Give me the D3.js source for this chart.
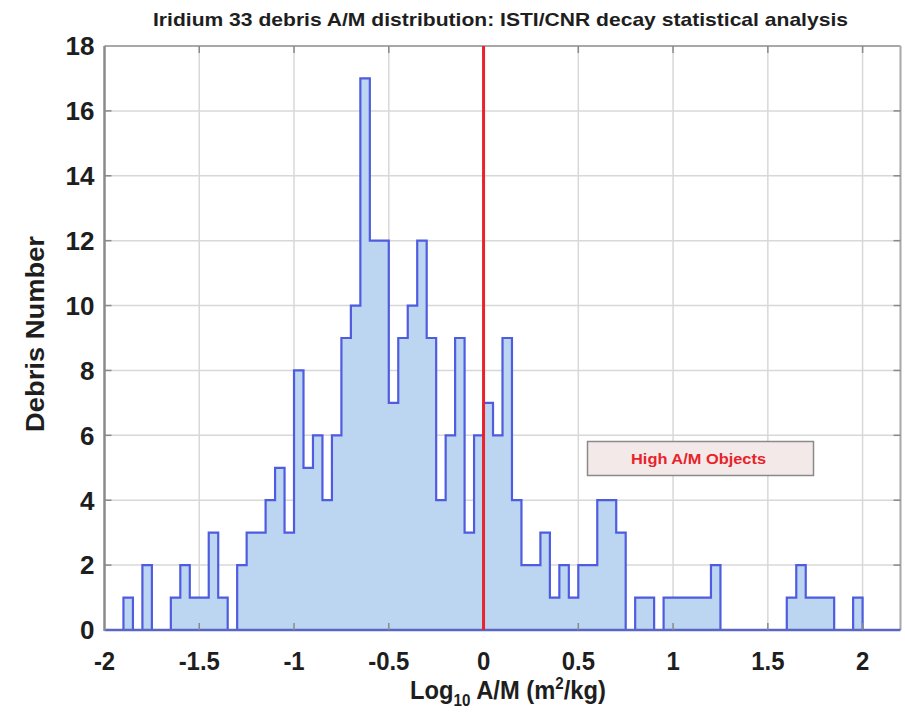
<!DOCTYPE html>
<html>
<head>
<meta charset="utf-8">
<script src="https://cdn.jsdelivr.net/npm/d3@7"></script>
<style>
  html, body { margin: 0; padding: 0; background: #ffffff; }
  svg { display: block; }
</style>
</head>
<body>
<svg id="chart" width="905" height="713"></svg>
<script>
// ---------------- data ----------------
const title = "Iridium 33 debris A/M distribution: ISTI/CNR decay statistical analysis";
const yLabel = "Debris Number";
const binStart = -1.9;   // left edge of first bin (log10 A/M)
const binWidth = 0.05;
const counts = [
  1, 0, 2, 0, 0, 1, 2, 1, 1, 3,
  1, 0, 2, 3, 3, 4, 5, 3, 8, 5,
  6, 4, 6, 9, 10, 17, 12, 12, 7, 9,
  10, 12, 9, 4, 6, 9, 3, 6, 7, 6,
  9, 4, 2, 2, 3, 1, 2, 1, 2, 2,
  4, 4, 3, 0, 1, 1, 0, 1, 1, 1,
  1, 1, 2, 0, 0, 0, 0, 0, 0, 0,
  1, 2, 1, 1, 1, 0, 0, 1
];
const xTicks = [-2, -1.5, -1, -0.5, 0, 0.5, 1, 1.5, 2];
const xTickLabels = ["-2", "-1.5", "-1", "-0.5", "0", "0.5", "1", "1.5", "2"];
const yTicks = [0, 2, 4, 6, 8, 10, 12, 14, 16, 18];
const thresholdX = 0;
const legendText = "High A/M Objects";

// ---------------- layout ----------------
const svg = d3.select("#chart");
const L = 104.5, R = 900.5, T = 46, B = 630;
const x = d3.scaleLinear().domain([-2, 2.2]).range([L, R]);
const y = d3.scaleLinear().domain([0, 18]).range([B, T]);

const font = "'Liberation Sans', Arial, Helvetica, sans-serif";
const ink = "#1e1e1e";

// grid
const grid = svg.append("g");
grid.selectAll("line.v").data(xTicks.filter(d => d > -2)).enter().append("line")
  .attr("x1", d => x(d)).attr("x2", d => x(d)).attr("y1", T).attr("y2", B)
  .attr("stroke", "#d8d8d8").attr("stroke-width", 1.5);
grid.selectAll("line.h").data(yTicks.filter(d => d > 0 && d < 18)).enter().append("line")
  .attr("x1", L).attr("x2", R).attr("y1", d => y(d)).attr("y2", d => y(d))
  .attr("stroke", "#d8d8d8").attr("stroke-width", 1.5);

// histogram data points
const pts = counts.map((c, i) => ({ e: binStart + i * binWidth, c }));
const lastEdge = binStart + counts.length * binWidth;
const stepPts = [{ e: binStart, c: 0 }, ...pts, { e: lastEdge, c: 0 }];

svg.append("path")
  .datum(stepPts)
  .attr("d", d3.area().curve(d3.curveStepAfter).x(d => x(d.e)).y0(y(0)).y1(d => y(d.c)))
  .attr("fill", "#bcd6f1");

svg.append("path")
  .datum(stepPts)
  .attr("d", d3.line().curve(d3.curveStepAfter).x(d => x(d.e)).y(d => y(d.c)))
  .attr("fill", "none")
  .attr("stroke", "#4f5ce0")
  .attr("stroke-width", 2.2)
  .attr("stroke-linejoin", "miter");

// frame
svg.append("line").attr("x1", L).attr("x2", R).attr("y1", T).attr("y2", T)
  .attr("stroke", "#a8a8a8").attr("stroke-width", 2);
svg.append("line").attr("x1", R).attr("x2", R).attr("y1", T).attr("y2", B)
  .attr("stroke", "#a8a8a8").attr("stroke-width", 2);
svg.append("line").attr("x1", L).attr("x2", R).attr("y1", B).attr("y2", B)
  .attr("stroke", "#5a66c4").attr("stroke-width", 2.5);
svg.append("line").attr("x1", L).attr("x2", L).attr("y1", T).attr("y2", B + 1)
  .attr("stroke", "#8a8a8a").attr("stroke-width", 2.5);

// inward ticks
const ticks = svg.append("g").attr("stroke", "#8a8a8a").attr("stroke-width", 1.5);
yTicks.filter(d => d > 0 && d < 18).forEach(d => {
  ticks.append("line").attr("x1", L).attr("x2", L + 7).attr("y1", y(d)).attr("y2", y(d));
  ticks.append("line").attr("x1", R - 7).attr("x2", R).attr("y1", y(d)).attr("y2", y(d));
});
xTicks.filter(d => d > -2).forEach(d => {
  ticks.append("line").attr("x1", x(d)).attr("x2", x(d)).attr("y1", T).attr("y2", T + 7);
  ticks.append("line").attr("x1", x(d)).attr("x2", x(d)).attr("y1", B - 7).attr("y2", B);
});

// threshold line
svg.append("line")
  .attr("x1", x(thresholdX)).attr("x2", x(thresholdX)).attr("y1", T).attr("y2", B)
  .attr("stroke", "#e8232b").attr("stroke-width", 3);

// y tick labels
svg.append("g").selectAll("text").data(yTicks).enter().append("text")
  .attr("x", L - 10).attr("y", d => y(d)).attr("dy", "0.36em")
  .attr("text-anchor", "end")
  .attr("font-family", font).attr("font-weight", "bold").attr("font-size", 26)
  .attr("fill", ink)
  .text(d => d);

// x tick labels
svg.append("g").selectAll("text").data(xTicks).enter().append("text")
  .attr("transform", d => `translate(${x(d)},670) scale(0.92,1)`)
  .attr("text-anchor", "middle")
  .attr("font-family", font).attr("font-weight", "bold").attr("font-size", 26)
  .attr("fill", ink)
  .text((d, i) => xTickLabels[i]);

// axis titles
const xl = svg.append("text")
  .attr("transform", "translate(508,699) scale(0.95,1)")
  .attr("text-anchor", "middle")
  .attr("font-family", font).attr("font-weight", "bold").attr("font-size", 25)
  .attr("fill", ink);
xl.append("tspan").text("Log");
xl.append("tspan").attr("font-size", 16).attr("dy", 7).text("10");
xl.append("tspan").attr("dy", -7).text(" A/M (m");
xl.append("tspan").attr("font-size", 16).attr("dy", -10).text("2");
xl.append("tspan").attr("dy", 10).text("/kg)");

svg.append("text")
  .attr("transform", "translate(44,334) rotate(-90)")
  .attr("text-anchor", "middle")
  .attr("font-family", font).attr("font-weight", "bold").attr("font-size", 26)
  .attr("textLength", 196).attr("lengthAdjust", "spacingAndGlyphs")
  .attr("fill", ink)
  .text(yLabel);

// title
svg.append("text")
  .attr("x", 153).attr("y", 26)
  .attr("font-family", font).attr("font-weight", "bold").attr("font-size", 19)
  .attr("textLength", 695).attr("lengthAdjust", "spacingAndGlyphs")
  .attr("fill", ink)
  .text(title);

// legend box
svg.append("rect")
  .attr("x", 587.5).attr("y", 441.5).attr("width", 226).attr("height", 34)
  .attr("fill", "#f4e9e9").attr("stroke", "#8a8a8a").attr("stroke-width", 1.5);
svg.append("text")
  .attr("x", 631).attr("y", 464)
  .attr("font-family", font).attr("font-weight", "bold").attr("font-size", 15)
  .attr("textLength", 135).attr("lengthAdjust", "spacingAndGlyphs")
  .attr("fill", "#e8232b")
  .text(legendText);
</script>
</body>
</html>
